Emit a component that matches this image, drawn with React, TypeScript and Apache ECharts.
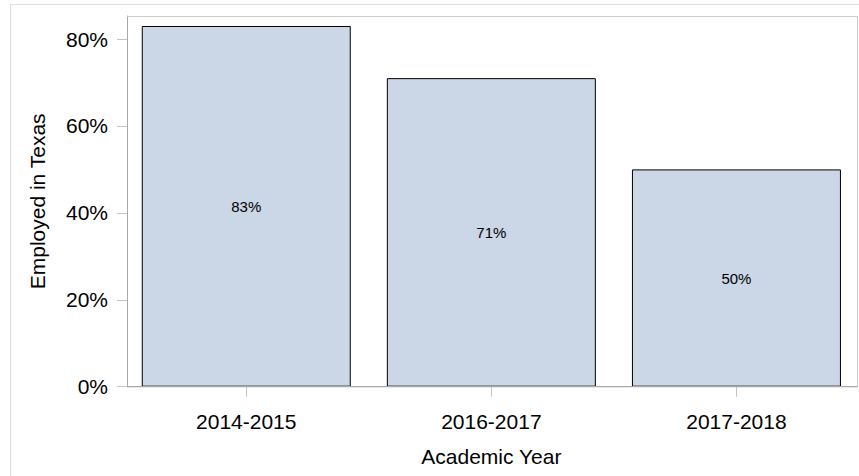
import React, { useEffect, useRef } from "react";
import * as echarts from "echarts";

const categories = ["2014-2015", "2016-2017", "2017-2018"];
const employedPct = [83, 71, 50];
const yTickValues = [0, 20, 40, 60, 80];

const FONT = '"Liberation Sans", Arial, Helvetica, sans-serif';

export default function App() {
  const ref = useRef<HTMLDivElement>(null);
  useEffect(() => {
    if (!ref.current) return;
    const chart = echarts.init(ref.current, undefined, { renderer: "svg" });
    const gridLeft = 123.7;
    const gridTop = 16;
    const gridWidth = 738;
    const gridHeight = 370.7;
    const frameLeft = 127;
    const frameRight = 857.5;
    const bottomY = gridTop + gridHeight;
    chart.setOption({
      animation: false,
      backgroundColor: "#ffffff",
      textStyle: { fontFamily: FONT },
      grid: { left: gridLeft, top: gridTop, width: gridWidth, height: gridHeight, containLabel: false },
      xAxis: {
        type: "category",
        data: categories,
        boundaryGap: true,
        axisLine: { show: false },
        axisTick: { show: true, alignWithLabel: true, length: 10, lineStyle: { color: "#c4c4c4", width: 1 } },
        axisLabel: { color: "#000", fontSize: 21, fontFamily: FONT, margin: 24 },
        name: "Academic Year",
        nameLocation: "middle",
        nameGap: 59,
        nameTextStyle: { color: "#000", fontSize: 21, fontFamily: FONT },
        splitLine: { show: false },
      },
      yAxis: {
        type: "value",
        min: 0,
        max: 85.3,
        interval: 20,
        offset: -3.3,
        axisLine: { show: true, lineStyle: { color: "#a8a8a8", width: 1 } },
        axisTick: { show: true, length: 10, customValues: yTickValues, lineStyle: { color: "#c4c4c4", width: 1 } },
        axisLabel: {
          color: "#000",
          fontSize: 21,
          fontFamily: FONT,
          margin: 19,
          customValues: yTickValues,
          formatter: (v: number) => `${v}%`,
        },
        splitLine: { show: false },
        name: "Employed in Texas",
        nameLocation: "middle",
        nameRotate: 90,
        nameGap: 79,
        nameTextStyle: { color: "#000", fontSize: 21, fontFamily: FONT },
      },
      series: [
        {
          type: "bar",
          data: employedPct,
          barWidth: 209,
          itemStyle: { color: "#cbd6e6", borderColor: "#000", borderWidth: 1 },
          label: {
            show: true,
            position: "inside",
            color: "#000",
            fontSize: 15,
            fontFamily: FONT,
            formatter: (p: any) => `${p.value}%`,
          },
        },
      ],
      graphic: [
        {
          type: "rect",
          silent: true,
          z: 0,
          shape: { x: 10.5, y: 4.5, width: 900, height: 500 },
          style: { fill: "none", stroke: "#dedede", lineWidth: 1 },
        },
        {
          type: "polyline",
          silent: true,
          z: 10,
          shape: { points: [[frameLeft, gridTop + 0.5], [frameRight, gridTop + 0.5], [frameRight, bottomY]] },
          style: { fill: "none", stroke: "#cccccc", lineWidth: 1 },
        },
        {
          type: "line",
          silent: true,
          z: 10,
          shape: { x1: frameLeft, y1: bottomY, x2: frameRight, y2: bottomY },
          style: { stroke: "#a8a8a8", lineWidth: 1.2 },
        },
      ],
    });
    return () => chart.dispose();
  }, []);
  return (
    <div
      ref={ref}
      style={{ position: "fixed", left: 0, top: 0, width: 859, height: 476, background: "#fff" }}
    />
  );
}
